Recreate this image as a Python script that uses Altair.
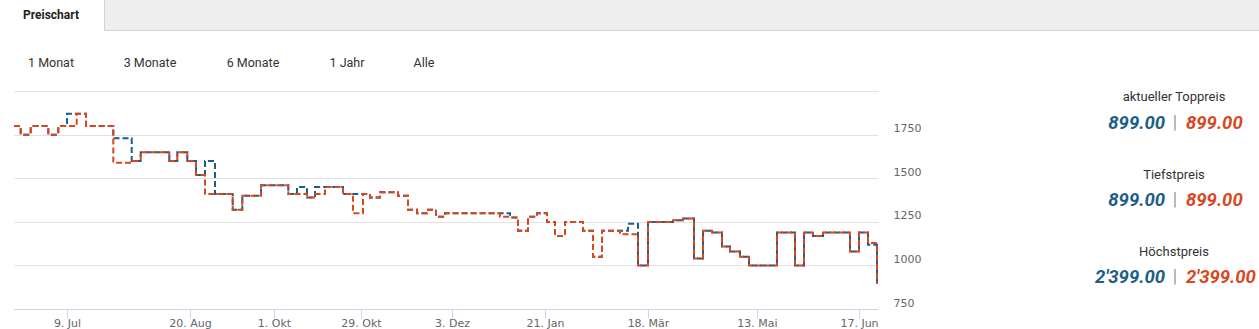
import altair as alt
import pandas as pd

BLUE = "#1b5e87"
ORANGE = "#d8471d"

# ordinal position (axis units) and price for each step change
orange_pos = [0, 6.7, 16.7, 34.3, 44.3, 62.7, 72, 99.3, 117.7, 126.7, 155.3, 163.3, 173.3, 182, 191,
              218.7, 228.3, 247, 274.3, 293, 301, 311, 329, 339, 349, 356, 366, 384, 394, 403,
              413, 422, 431, 486, 496, 504, 514, 523, 533, 541, 551, 569, 579, 588, 606,
              624, 634, 659, 669, 680, 689, 698, 708, 716, 726, 735, 763, 781, 790, 799,
              809, 836, 845, 854, 863, 864]
orange_val = [1799, 1749, 1799, 1749, 1799, 1869, 1799, 1589, 1599, 1649, 1599, 1649, 1599, 1519, 1409,
              1319, 1399, 1459, 1409, 1389, 1409, 1449, 1409, 1299, 1409, 1389, 1419, 1399, 1319, 1299,
              1319, 1279, 1299, 1279, 1275, 1199, 1279, 1299, 1249, 1169, 1249, 1199, 1049, 1199, 1179,
              999, 1249, 1259, 1269, 1039, 1199, 1189, 1109, 1079, 1049, 999, 1189, 999, 1189, 1169,
              1189, 1079, 1189, 1129, 899, 899]

blue_pos = [0, 6.7, 16.7, 34.3, 44.3, 53, 72, 99.3, 117.7, 126.7, 155.3, 163.3, 173.3, 182, 191,
            201, 218.7, 228.3, 247, 274.3, 283, 293, 301, 329, 356, 366, 384, 394, 403, 413,
            422, 431, 496, 504, 514, 523, 533, 541, 551, 569, 579, 588, 614, 624, 634,
            659, 669, 680, 689, 698, 708, 716, 726, 735, 763, 781, 790, 799, 809, 836,
            845, 854, 863, 864]
blue_val = [1799, 1749, 1799, 1749, 1799, 1869, 1799, 1729, 1599, 1649, 1599, 1649, 1599, 1519, 1599,
            1409, 1319, 1399, 1459, 1409, 1449, 1389, 1449, 1409, 1389, 1419, 1399, 1319, 1299, 1319,
            1279, 1299, 1275, 1199, 1279, 1299, 1249, 1169, 1249, 1199, 1049, 1199, 1239, 999, 1249,
            1259, 1269, 1039, 1199, 1189, 1109, 1079, 1049, 999, 1189, 999, 1189, 1169, 1189, 1079,
            1189, 1119, 899, 899]

tick_pos = [53, 176, 260, 347, 438, 531, 634, 743, 845]
tick_labels = ["9. Jul", "20. Aug", "1. Okt", "29. Okt", "3. Dez", "21. Jan", "18. Mär", "13. Mai", "17. Jun"]
y_ticks = [750, 1000, 1250, 1500, 1750, 2000]

ranges = ["1 Monat", "3 Monate", "6 Monate", "1 Jahr", "Alle"]
stat_labels = ["aktueller Toppreis", "Tiefstpreis", "Höchstpreis"]
blue_stats = [899.00, 899.00, 2399.00]
orange_stats = [899.00, 899.00, 2399.00]

PL, PT = 14, 91  # plot origin offset in page

blue_df = pd.DataFrame({"pos": blue_pos, "val": blue_val})
orange_df = pd.DataFrame({"pos": orange_pos, "val": orange_val})

label_expr = "[" + ",".join("'" + t + "'" for t in tick_labels) + "][indexof([" + \
    ",".join(str(p) for p in tick_pos) + "], datum.value)]"

x_axis = alt.Axis(values=tick_pos, labelExpr=label_expr, grid=False, domain=True,
                  domainColor="#ccd6eb", ticks=True, tickColor="#ccd6eb", tickSize=9,
                  labelPadding=-1, labelFont="DejaVu Sans", labelFontSize=11, labelColor="#666666",
                  title=None, labelFlush=False)
y_axis = alt.Axis(orient="right", values=y_ticks, format="d",
                  labelExpr="datum.value == 2000 ? '' : datum.label",
                  grid=True, gridColor="#e2e2e2", domain=False, ticks=False, labelPadding=15,
                  labelOffset=-6, labelAlign="left", labelBaseline="middle",
                  labelFont="DejaVu Sans", labelFontSize=11, labelColor="#666666", title=None)

xs = alt.Scale(domain=[0, 864], nice=False, zero=False)
ys = alt.Scale(domain=[750, 2000], nice=False, zero=False)


def line(df, color):
    return alt.Chart(df).mark_line(interpolate="step-after", strokeWidth=2,
                                   strokeDash=[6, 3], color=color).encode(
        x=alt.X("pos:Q", scale=xs, axis=x_axis),
        y=alt.Y("val:Q", scale=ys, axis=y_axis),
    )


def text(t, x, y, size, color, weight="normal", style="normal", align="center", font="Roboto"):
    return alt.Chart(pd.DataFrame({"t": [t]})).mark_text(
        align=align, baseline="middle", font=font, fontSize=size, fontWeight=weight,
        fontStyle=style, color=color).encode(
        text="t:N", x=alt.value(x - PL), y=alt.value(y - PT))


def fmt(v):
    return f"{v:,.2f}".replace(",", "'")


layers = []
# tab bar
layers.append(alt.Chart(pd.DataFrame({"a": [0]})).mark_rect(
    fill="#efeeee", stroke="#d2d2d2", strokeWidth=1).encode(
    x=alt.value(104.5 - PL), x2=alt.value(1265 - PL), y=alt.value(-5 - PT), y2=alt.value(30.5 - PT)))
layers.append(text("Preischart", 51, 15, 12, "#222222", weight="bold"))
btn_x = [51, 150, 253, 347, 424]
for t, bx in zip(ranges, btn_x):
    layers.append(text(t, bx, 63, 12.5, "#333333"))

layers.append(line(blue_df, BLUE))
layers.append(line(orange_df, ORANGE))

label_y = [97, 175, 252]
value_y = [123, 200, 277]
for lab, ly, vy, bv, ov in zip(stat_labels, label_y, value_y, blue_stats, orange_stats):
    layers.append(text(lab, 1174, ly, 13, "#333333"))
    layers.append(text(fmt(bv), 1165, vy, 18.5, BLUE, weight="bold", style="italic", align="right"))
    layers.append(text("|", 1175, vy, 18, "#999999"))
    layers.append(text(fmt(ov), 1186, vy, 18.5, ORANGE, weight="bold", style="italic", align="left"))

chart = alt.layer(*layers).properties(
    width=864, height=218,
    padding={"left": PL, "top": PT, "right": 1259 - 878, "bottom": 329 - 309},
    autosize="none", background="white",
).configure_view(stroke=None)

chart.save("out.html", embed_options={"renderer": "svg", "actions": False})
